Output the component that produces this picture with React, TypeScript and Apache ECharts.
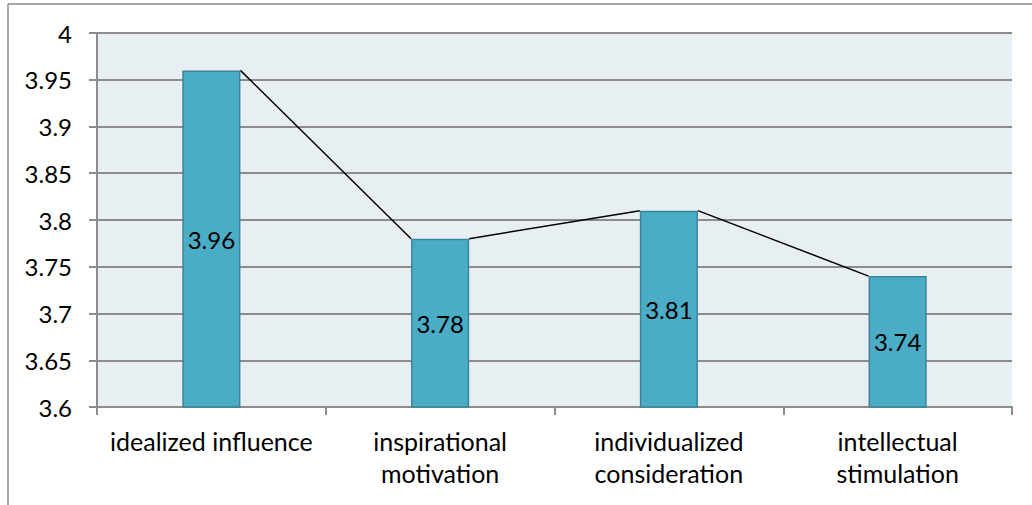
import React, { useEffect, useRef } from "react";
import * as echarts from "echarts";

const categories = [
  "idealized influence",
  "inspirational\nmotivation",
  "individualized\nconsideration",
  "intellectual\nstimulation",
];
const values = [3.96, 3.78, 3.81, 3.74];
const yMin = 3.6;
const yMax = 4;
const yStep = 0.05;

const FONT = "Lato, 'Open Sans', sans-serif";

export default function App() {
  const ref = useRef<HTMLDivElement>(null);
  useEffect(() => {
    document.body.style.margin = "0";
    const chart = echarts.init(ref.current!, null, { renderer: "svg" });
    const n = values.length;
    chart.setOption({
      animation: false,
      backgroundColor: "#ffffff",
      textStyle: { fontFamily: FONT },
      grid: {
        left: 97,
        right: 20,
        top: 33,
        bottom: 98,
        show: true,
        backgroundColor: "#E8EFF3",
        borderWidth: 0,
      },
      xAxis: {
        type: "category",
        data: categories,
        boundaryGap: true,
        axisLine: { show: true, lineStyle: { color: "#8C8C8C", width: 2 } },
        axisTick: { show: true, length: 8, lineStyle: { color: "#8C8C8C", width: 2 } },
        axisLabel: {
          color: "#000",
          fontSize: 25,
          fontFamily: FONT,
          lineHeight: 32,
          margin: 18,
          interval: 0,
        },
        splitLine: { show: false },
      },
      yAxis: {
        type: "value",
        min: yMin,
        max: yMax,
        interval: yStep,
        axisLine: { show: true, lineStyle: { color: "#8C8C8C", width: 2 } },
        axisTick: { show: true, length: 8, inside: false, lineStyle: { color: "#8C8C8C", width: 2 } },
        axisLabel: {
          color: "#000",
          fontSize: 24,
          fontFamily: FONT,
          margin: 25,
          formatter: (v: number) => String(+v.toFixed(2)),
        },
        splitLine: { show: true, lineStyle: { color: "#8C8C8C", width: 2 } },
      },
      series: [
        {
          type: "bar",
          data: values,
          barWidth: "25.4%",
          itemStyle: { color: "#4BACC6", borderColor: "#3A8399", borderWidth: 1.5 },
          label: {
            show: true,
            position: "inside",
            color: "#000",
            fontSize: 24,
            fontFamily: FONT,
          },
          z: 2,
        },
        {
          type: "custom",
          data: values.map((v, i) => [i, v]),
          z: 10,
          renderItem: (params: any, api: any) => {
            const i = params.dataIndex;
            if (i >= n - 1) return { type: "group", children: [] };
            const p1 = api.coord([i, values[i]]);
            const p2 = api.coord([i + 1, values[i + 1]]);
            const hw = api.size([1, 0])[0] * 0.127;
            return {
              type: "line",
              shape: { x1: p1[0] + hw, y1: p1[1], x2: p2[0] - hw, y2: p2[1] },
              style: { stroke: "#000", lineWidth: 1.5 },
            };
          },
        },
      ],
      graphic: [
        {
          type: "line",
          shape: { x1: 8, y1: 4, x2: 1032, y2: 4 },
          style: { stroke: "#888888", lineWidth: 1.5 },
        },
        {
          type: "line",
          shape: { x1: 8, y1: 4, x2: 8, y2: 505 },
          style: { stroke: "#888888", lineWidth: 1.5 },
        },
      ],
    });
    return () => chart.dispose();
  }, []);
  return <div ref={ref} style={{ width: 1032, height: 505 }} />;
}
